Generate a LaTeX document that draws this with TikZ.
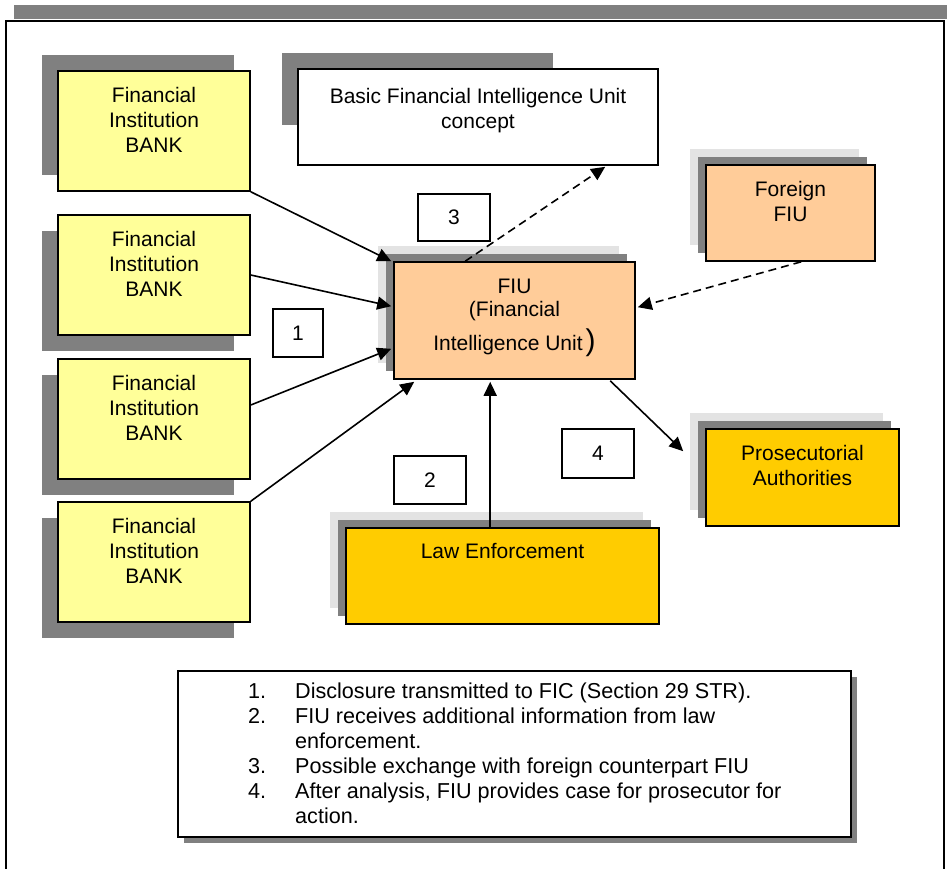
\documentclass[tikz,border=0pt]{standalone}
\usepackage{fontspec}
\setmainfont{Liberation Sans}
\usetikzlibrary{arrows.meta,calc}
\definecolor{bankyellow}{HTML}{FFFF99}
\definecolor{fiuorange}{HTML}{FFCC99}
\definecolor{lawgold}{HTML}{FFCC00}
\definecolor{shadowdark}{HTML}{808080}
\definecolor{shadowlight}{HTML}{E3E3E3}
\newcommand\tstrut{\rule{0pt}{16pt}}
\begin{document}
\begin{tikzpicture}[x=1pt,y=-1pt,
  box/.style={draw=black, line width=1.6pt, inner sep=0pt, rectangle},
  bankbox/.style={box, fill=bankyellow, minimum width=192pt, minimum height=120pt},
  txt/.style={inner sep=0pt, align=center, font=\fontsize{21}{25}\selectfont, anchor=north},
  numbox/.style={draw=black, line width=1.2pt, fill=white, inner sep=0pt, minimum height=48pt, font=\fontsize{21}{25}\selectfont},
  conn/.style={line width=1.6pt, -{Triangle[length=14pt,width=13pt]}},
  dconn/.style={conn, dash pattern=on 8pt off 5pt},
  shd/.style={fill=shadowdark},
  shl/.style={fill=shadowlight}]
\useasboundingbox (0,0) rectangle (947,869);
\fill[white] (0,0) rectangle (947,869);
% title shadow bar and frame
\fill[shd] (14,5) rectangle (947,19.5);
\draw[line width=2pt] (6,869) -- (6,21) -- (944,21) -- (944,869);

% bank shadows
\fill[shd] (42,55) rectangle (234,175);
\fill[shd] (42,231) rectangle (234,351);
\fill[shd] (42,375) rectangle (234,495);
\fill[shd] (42,518) rectangle (234,638);
% bank boxes
\node[bankbox] (b1) at (154,131) {};
\node[bankbox] (b2) at (154,275) {};
\node[bankbox] (b3) at (154,419) {};
\node[bankbox] (b4) at (154,562) {};
\node[txt] (t1) at (154,86) {\tstrut Financial\\Institution\\BANK};
\node[txt] (t2) at (154,230) {\tstrut Financial\\Institution\\BANK};
\node[txt] (t3) at (154,374) {\tstrut Financial\\Institution\\BANK};
\node[txt] (t4) at (154,517) {\tstrut Financial\\Institution\\BANK};

% basic FIU concept
\fill[shd] (282,53) rectangle (553,125);
\node[box, fill=white, minimum width=360pt, minimum height=96pt] (basic) at (478,117) {};
\node[txt] (tbasic) at (478,87) {\tstrut Basic Financial Intelligence Unit\\concept};

% FIU
\fill[shl] (378,246) rectangle (619,363);
\fill[shd] (386,254) rectangle (627,371);
\node[box, fill=fiuorange, minimum width=241pt, minimum height=117pt] (fiu) at (514.5,320.5) {};
\node[txt] (tfiu) at (514.5,277) {\tstrut FIU\\[-2pt](Financial\\[9pt]Intelligence Unit\kern3pt\smash{\fontsize{30}{30}\selectfont)}};

% Foreign FIU
\fill[shl] (690,149) rectangle (859,245);
\fill[shd] (698,157) rectangle (867,253);
\node[box, fill=fiuorange, minimum width=169pt, minimum height=96pt] (foreign) at (790.5,213) {};
\node[txt] (tforeign) at (790.5,180) {\tstrut Foreign\\FIU};

% Law enforcement
\fill[shl] (330,512) rectangle (643,608);
\fill[shd] (338,520) rectangle (651,616);
\node[box, fill=lawgold, minimum width=313pt, minimum height=96pt] (law) at (502.5,576) {};
\node[txt] (tlaw) at (502.5,542) {\tstrut Law Enforcement};

% Prosecutorial
\fill[shl] (690,413) rectangle (883,510);
\fill[shd] (698,421) rectangle (891,518);
\node[box, fill=lawgold, minimum width=193pt, minimum height=97pt] (pros) at (802.5,477.5) {};
\node[txt] (tpros) at (802.5,444) {\tstrut Prosecutorial\\Authorities};

% number boxes
\node[numbox, minimum width=50pt] (n1) at (298,333) {1};
\node[numbox, minimum width=72pt, minimum height=47pt] (n3) at (454,217.5) {3};
\node[numbox, minimum width=72pt] (n2) at (430,480) {2};
\node[numbox, minimum width=72pt, minimum height=49pt] (n4) at (598,453.5) {4};

% connectors
\draw[conn] (b1.south east) -- ($(fiu.north west)+(-2,0)$);
\draw[conn] (b2.east) -- ($(fiu.north west)+(-2,45)$);
\draw[conn] ($(b3.east)+(0,-14)$) -- ($(fiu.south west)+(-2,-31)$);
\draw[conn] (b4.north east) -- ($(fiu.south west)+(21,2)$);
\draw[conn] ($(law.north west)+(145,0)$) -- ($(fiu.south west)+(97,2)$);
\draw[conn] ($(fiu.south west)+(217,1)$) -- ($(pros.north west)+(-22,23)$);
\draw[dconn] ($(fiu.north west)+(72,0)$) -- ($(basic.south west)+(308,1)$);
\draw[dconn] ($(foreign.south west)+(96,0)$) -- ($(fiu.north east)+(2,46)$);

% legend
\fill[shd] (184,677) rectangle (857,843);
\node[box, fill=white, minimum width=673pt, minimum height=166pt] (legend) at (514.5,754) {};
\node[inner sep=0pt, anchor=north west, font=\fontsize{21.6}{25}\selectfont] (legtext) at (248,680.5) {\begin{tabular}{@{}p{47pt}@{}l@{}}
1. & Disclosure transmitted to FIC (Section 29 STR).\\
2. & FIU receives additional information from law\\
   & enforcement.\\
3. & Possible exchange with foreign counterpart FIU\\
4. & After analysis, FIU provides case for prosecutor for\\
   & action.
\end{tabular}};
\end{tikzpicture}
\end{document}
